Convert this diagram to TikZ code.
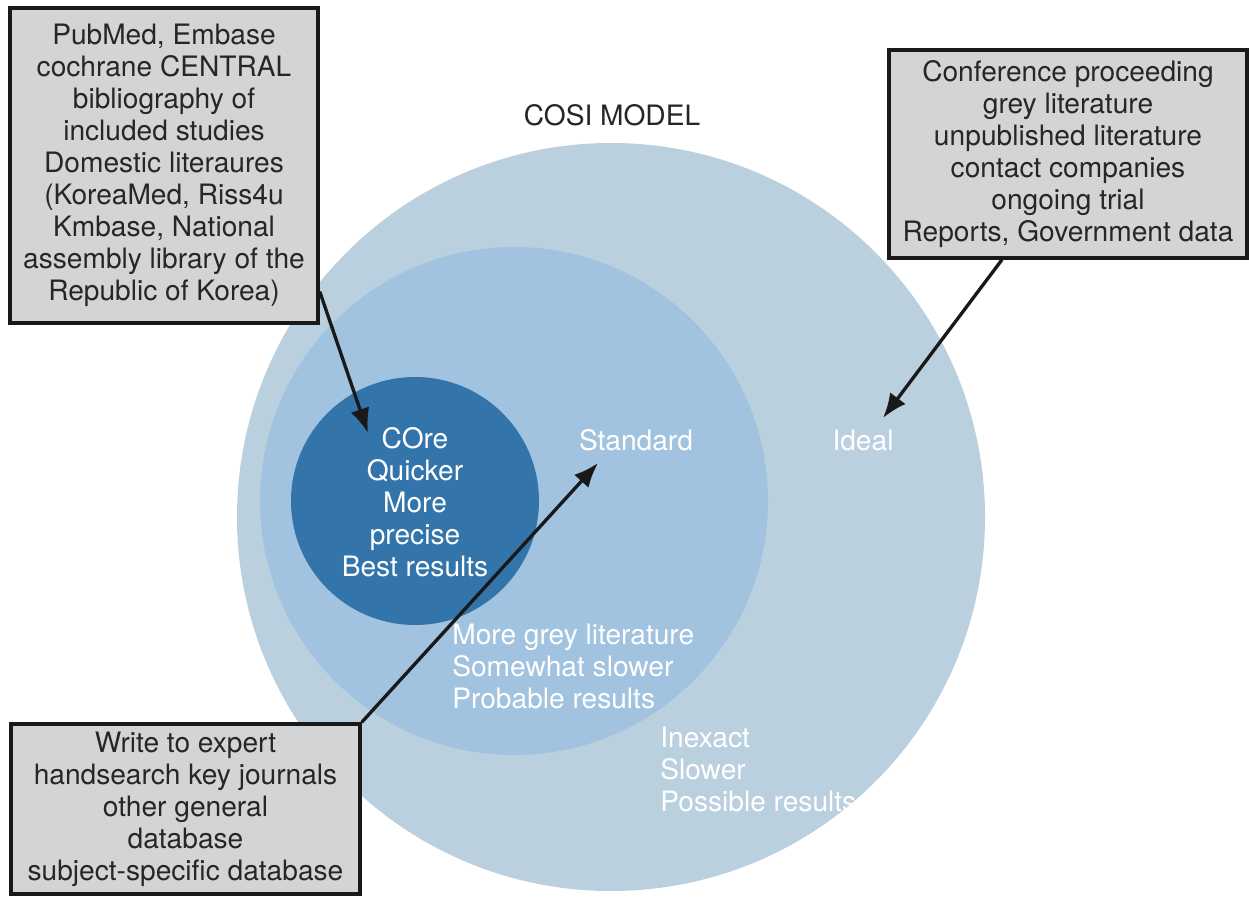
\documentclass[tikz,border=0pt]{standalone}
\usepackage{fontspec}
\setmainfont{TeX Gyre Heros}
\usepackage{tikz}
\usetikzlibrary{arrows.meta,positioning}
\tikzset{>={Latex[length=14pt,width=11pt]}}

\definecolor{ringout}{HTML}{BBD0DF}
\definecolor{ringmid}{HTML}{A1C3E0}
\definecolor{ringcore}{HTML}{3375AA}
\definecolor{boxgrey}{HTML}{D3D4D6}

\tikzset{
  srcbox/.style={draw=black!90, line width=2pt, fill=boxgrey, align=center,
    inner sep=0pt, text=black!85, font=\fontsize{16}{18.2}\selectfont},
  ringtext/.style={text=white, align=center, font=\fontsize{16}{18.2}\selectfont},
  ringlist/.style={text=white, align=left, anchor=west, inner sep=0pt, font=\fontsize{16}{18.2}\selectfont},
  pointer/.style={->, line width=1.9pt, draw=black!90}
}

\begin{document}
\begin{tikzpicture}
            \useasboundingbox (0,0) rectangle (24.98,18.06);

            % the three rings
            \fill[ringout]  (12.22,7.72) circle (7.48);
            \fill[ringmid]  (10.28,8.04) circle (5.08);
            \fill[ringcore] (8.30,8.04)  circle (2.48);

            \node[font=\fontsize{16}{18.2}\selectfont, text=black!85] (title) at (12.24,15.76) {COSI MODEL};

            % labels inside the rings
            \node[ringtext] (core) at (8.30,8.02) {COre\\Quicker\\More\\precise\\Best results};
            \node[ringtext] (standard) at (12.72,9.26) {Standard};
            \node[ringtext] (ideal) at (17.26,9.26) {Ideal};
            \node[ringlist] (midlist) at (9.04,4.74) {More grey literature\\Somewhat slower\\Probable results};
            \node[ringlist] (outlist) at (13.20,2.68) {Inexact\\Slower\\Possible results};

            % source boxes
            \node[srcbox, minimum width=6.16cm, minimum height=6.30cm] (dbbox) at (3.28,14.75)
              {PubMed, Embase\\cochrane CENTRAL\\bibliography of\\included studies\\Domestic literaures\\(KoreaMed, Riss4u\\Kmbase, National\\assembly library of the\\Republic of Korea)};
            \node[srcbox, minimum width=7.16cm, minimum height=4.16cm] (greybox) at (21.36,14.98)
              {Conference proceeding\\grey literature\\unpublished literature\\contact companies\\ongoing trial\\Reports, Government data};
            \node[srcbox, minimum width=6.98cm, minimum height=3.40cm] (handbox) at (3.71,1.88)
              {Write to expert\\handsearch key journals\\other general\\database\\subject-specific database};

            % arrow tips
            \coordinate (coretip) at (7.36,9.40);
            \coordinate (stdtip) at (11.96,8.80);
            \coordinate (idealtip) at (17.66,9.70);

            \draw[pointer] (dbbox.-39) -- (coretip);
            \draw[pointer] (greybox.238) -- (idealtip);
            \draw[pointer] (handbox.north east) -- (stdtip);
\end{tikzpicture}
\end{document}
